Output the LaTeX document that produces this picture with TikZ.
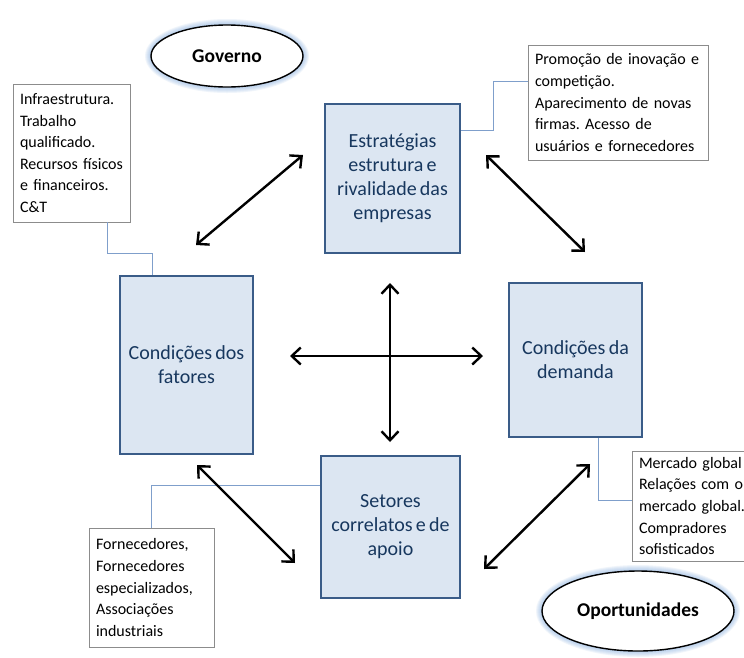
\documentclass[tikz,border=0pt]{standalone}
\usepackage{fontspec}
% Carlito with narrower, rigid word spaces
\setmainfont{Carlito}[WordSpace={0.72,0,0}]
\usetikzlibrary{arrows.meta,shapes.geometric}

\definecolor{boxfill}{HTML}{DCE6F2}
\definecolor{boxline}{HTML}{3A5C88}
\definecolor{boxtext}{HTML}{17375E}
\definecolor{noteline}{HTML}{8C8C8C}
\definecolor{linkline}{HTML}{7F9FCB}
\definecolor{glow}{HTML}{8DB3E2}

\newcommand{\tightwords}{\frenchspacing\hbadness=10000\hfuzz=20pt\relax}

\tikzset{
  force/.style={draw=boxline, line width=1.6pt, fill=boxfill, text=boxtext,
    align=center, font=\fontsize{20}{24}\selectfont\tightwords, inner sep=0pt},
  note/.style={draw=noteline, line width=0.9pt, fill=white, align=left,
    font=\fontsize{16}{21.6}\selectfont\tightwords, inner xsep=7pt, inner ysep=0pt},
  actor/.style={ellipse, draw=black, line width=1.4pt, fill=white,
    font=\bfseries\fontsize{19.5}{22}\selectfont, inner sep=0pt},
  link/.style={draw=linkline, line width=0.9pt},
  tie/.style={line width=2.4pt, black,
    {Straight Barb[length=9pt,width=17pt]}-{Straight Barb[length=9pt,width=17pt]}},
}

\begin{document}
\begin{tikzpicture}[x=1pt,y=-1pt]
  \useasboundingbox (0,0) rectangle (744,657);
  \fill[white] (0,0) rectangle (744,657);

  % soft halo behind the two actor ellipses
  \foreach \i in {1,...,6} {
    \fill[glow, opacity=0.13] (227,56) ellipse [x radius=76+\i, y radius=31+\i];
    \fill[glow, opacity=0.13] (638,611) ellipse [x radius=96+\i, y radius=40+\i];
  }
  \node[actor, minimum width=152, minimum height=62] (gov) at (227,56) {Governo};
  \node[actor, minimum width=192, minimum height=80] (opp) at (638,611) {Oportunidades};

  % the four determinants
  \node[force, minimum width=135, minimum height=149] (estr) at (392.5,178.5)
    {Estratégias\\estrutura e\\rivalidade das\\empresas};
  \node[force, minimum width=133, minimum height=178] (fat) at (186.5,365)
    {Condições dos\\fatores};
  \node[force, minimum width=133, minimum height=154] (dem) at (575.5,360)
    {Condições da\\demanda};
  \node[force, minimum width=139, minimum height=142] (set) at (390.5,527)
    {Setores\\correlatos e de\\apoio};

  % explanatory notes
  \node[note, minimum width=117, minimum height=138, text width=103] (infra) at (71.5,153)
    {Infraestrutura.\\Trabalho\\qualificado.\\Recursos físicos\\e financeiros.\\C\&T};
  \node[note, minimum width=180, minimum height=115, text width=166] (promo) at (618,102.5)
    {Promoção de inovação e\\competição.\\Aparecimento de novas\\firmas. Acesso de\\usuários e fornecedores};
  \node[note, minimum width=124, minimum height=110, text width=110] (merc) at (694,506)
    {Mercado global\\Relações com o\\mercado global.\\Compradores\\sofisticados};
  \node[note, minimum width=125, minimum height=119, text width=111] (forn) at (151.5,587.5)
    {Fornecedores,\\Fornecedores\\especializados,\\Associações\\industriais};

  % elbow links from the notes to the boxes
  \draw[link] (infra.south -| 107,0) |- (152,253) -- (fat.north -| 152,0);
  \draw[link] (estr.east |- 0,130) -- (493,130) |- (promo.west |- 0,81);
  \draw[link] (dem.south -| 598,0) |- (merc.west |- 0,500);
  \draw[link] (forn.north -| 151,0) |- (set.west |- 0,485);

  % interaction arrows
  \coordinate (ulA) at (196,245);  \coordinate (ulB) at (303,155);
  \coordinate (urA) at (486,155);  \coordinate (urB) at (585,252);
  \coordinate (llA) at (197,465);  \coordinate (llB) at (295,563);
  \coordinate (lrA) at (484,569);  \coordinate (lrB) at (590,464);
  \coordinate (hW) at (290,356);   \coordinate (hE) at (483,356);
  \coordinate (vN) at (390,283);   \coordinate (vS) at (390,442);
  \draw[tie] (ulA) -- (ulB);
  \draw[tie] (urA) -- (urB);
  \draw[tie] (llA) -- (llB);
  \draw[tie] (lrA) -- (lrB);
  \draw[tie] (hW) -- (hE);
  \draw[tie] (vN) -- (vS);
\end{tikzpicture}
\end{document}
